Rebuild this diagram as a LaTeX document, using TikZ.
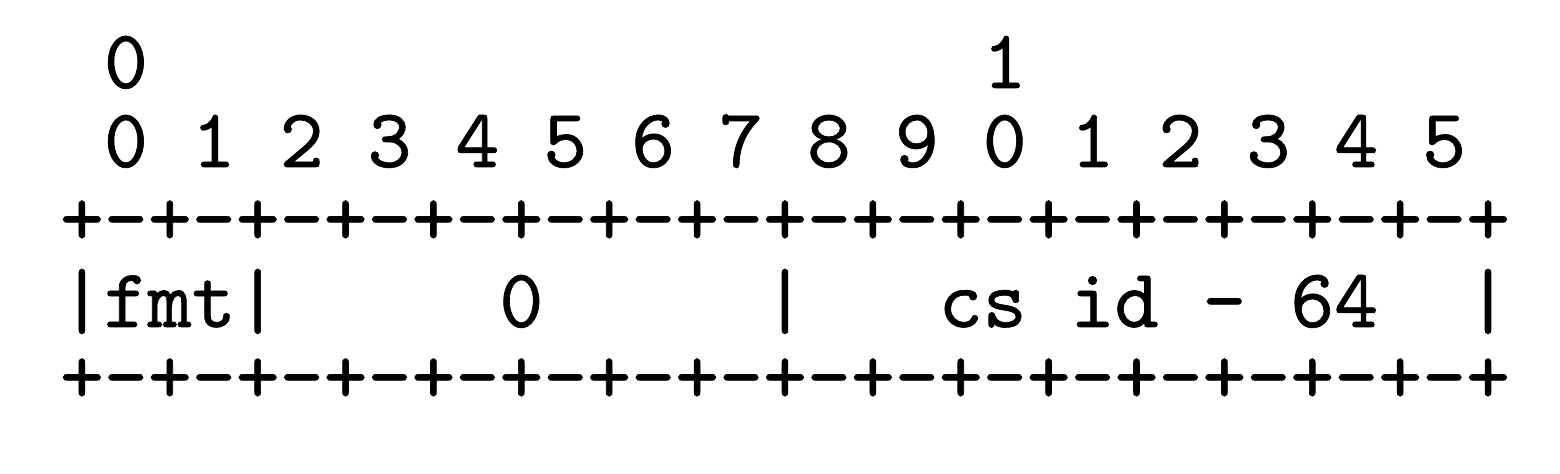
\documentclass[tikz,border=0pt]{standalone}
\usepackage{fontspec}
\newfontfamily\asciifont[FakeBold=0.8]{lmmono10-regular.otf}
\usetikzlibrary{calc}
\tikzset{ascii/.style={inner sep=0pt, anchor=base, font=\asciifont\fontsize{41.85}{48}\selectfont}}
\newcommand{\cw}{43.94}

\begin{document}
\begin{tikzpicture}[x=0.5pt,y=-0.5pt]
      \useasboundingbox (0,0) rectangle (1560,474);
      % column c sits at x = 81.97 + c*\cw
      \node[ascii] (ten0) at ({81.97+\cw},88) {0};
      \node[ascii] (ten1) at ({81.97+21*\cw},88) {1};
      \foreach \i in {0,...,15} {
        \pgfmathtruncatemacro{\d}{mod(\i,10)}
        \node[ascii] (bit\i) at ({81.97+(2*\i+1)*\cw},167) {\d};
      }
      \node[ascii] (top) at ({81.97+16*\cw},245) {+-+-+-+-+-+-+-+-+-+-+-+-+-+-+-+-+};
      \foreach \c/\n in {0/bara,4/barb,16/barc,32/bard}
        \node[ascii] (\n) at ({81.97+\c*\cw},327) {|};
      \node[ascii] (fmt) at ({81.97+2*\cw},327) {fmt};
      \node[ascii] (zero) at ({81.97+10*\cw},327) {0};
      \node[ascii] (csid) at ({81.97+24.5*\cw},327) {cs id - 64};
      \node[ascii] (bottom) at ({81.97+16*\cw},403) {+-+-+-+-+-+-+-+-+-+-+-+-+-+-+-+-+};
\end{tikzpicture}
\end{document}
